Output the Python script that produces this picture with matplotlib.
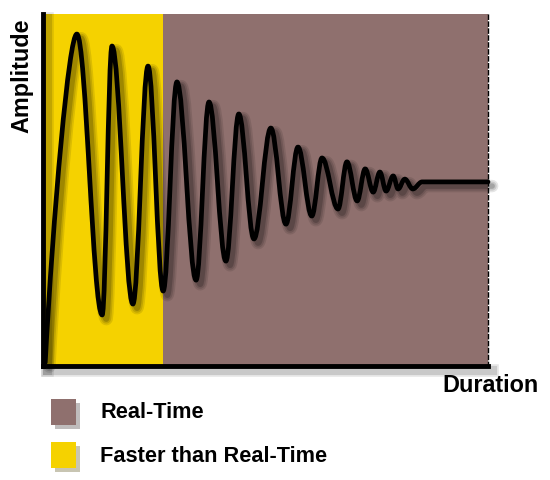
import matplotlib
matplotlib.use("Agg")
import matplotlib.pyplot as plt
import matplotlib.patheffects as pe
from matplotlib.path import Path
from matplotlib.patches import PathPatch, Rectangle

plt.rcParams['font.family'] = ['Liberation Sans', 'DejaVu Sans']

# regions of the duration axis
region_labels = ["Real-Time", "Faster than Real-Time"]
region_colors = ["#8F706E", "#F5D200"]
region_start = [27.0, 0.0]
region_end = [100.0, 27.0]

# turning points of the signal (duration %, amplitude %)
wave_t = [0.5, 7.6, 13.3, 15.5, 20.2, 23.6, 27.0, 30.1, 34.4, 37.3, 41.1,
          44.0, 47.4, 51.2, 54.6, 57.3, 60.4, 62.7, 66.3, 68.3, 70.6, 72.4,
          74.2, 75.7, 77.1, 78.7, 79.8, 81.3, 83.1, 85.2]
wave_a = [1.0, 94.3, 14.5, 90.9, 17.6, 85.2, 21.3, 80.7, 24.4, 75.0, 29.8,
          71.6, 36.1, 67.6, 40.3, 62.2, 42.6, 59.1, 44.6, 58.0, 46.9, 56.0,
          49.4, 55.1, 49.7, 54.0, 50.3, 53.1, 50.3, 52.3]
settle_end = 100.0

W, H = 550, 481
fig = plt.figure(figsize=(W / 100, H / 100), dpi=100)
ax = fig.add_axes([43 / W, 1 - 367 / H, 445 / W, 352 / H])
ax.set_xlim(0, 100)
ax.set_ylim(0, 100)

for s, e, c in zip(region_start, region_end, region_colors):
    ax.axvspan(s, e, color=c, lw=0, zorder=0)

# smooth curve through the turning points (horizontal tangent at each one)
verts = [(wave_t[0], wave_a[0])]
codes = [Path.MOVETO]
for i in range(len(wave_t) - 1):
    x0, y0 = wave_t[i], wave_a[i]
    x1, y1 = wave_t[i + 1], wave_a[i + 1]
    dx = x1 - x0
    if i == 0:
        # first rise is almost straight out of the corner
        c1 = (x0 + 0.25 * dx, y0 + 0.45 * (y1 - y0))
        c2 = (x1 - 0.25 * dx, y1)
    else:
        c1 = (x0 + 0.364 * dx, y0)
        c2 = (x1 - 0.364 * dx, y1)
    verts += [c1, c2, (x1, y1)]
    codes += [Path.CURVE4] * 3
verts.append((settle_end, wave_a[-1]))
codes.append(Path.LINETO)

shadow = [pe.SimpleLineShadow(offset=(3, -3), shadow_color='black', alpha=a, linewidth=w)
          for a, w in ((0.1, 9), (0.12, 6.5), (0.18, 4))]
curve = PathPatch(Path(verts, codes), fill=False, ec='black', lw=3.4,
                  capstyle='round', joinstyle='round', zorder=3, clip_on=False)
curve.set_path_effects(shadow + [pe.Normal()])
ax.add_patch(curve)

ax.spines['top'].set_visible(False)
ax.spines['right'].set_linestyle((0, (3, 2)))
ax.spines['right'].set_linewidth(1)
for side in ('left', 'bottom'):
    ax.spines[side].set_linewidth(3.5)
    ax.spines[side].set_path_effects(shadow[:2] + [pe.Normal()])
ax.set_xticks([])
ax.set_yticks([])

fig.text(22 / W, 1 - 76 / H, "Amplitude", rotation=90, fontsize=16.8,
         fontweight='bold', ha='center', va='center')
fig.text(490 / W, 1 - 386 / H, "Duration", fontsize=16.8,
         fontweight='bold', ha='center', va='center')

# legend
leg_y = [413, 456]
for lab, c, y in zip(region_labels, region_colors, leg_y):
    sq = Rectangle((51 / W, 1 - (y + 13) / H), 25 / W, 26 / H, transform=fig.transFigure,
                   fc=c, ec='none')
    sq.set_path_effects([pe.SimplePatchShadow(offset=(3, -3), alpha=0.3), pe.Normal()])
    fig.add_artist(sq)
    fig.text(100 / W, 1 - y / H, lab, fontsize=15.7, fontweight='bold',
             ha='left', va='center')

fig.savefig("out.png", dpi=100)
